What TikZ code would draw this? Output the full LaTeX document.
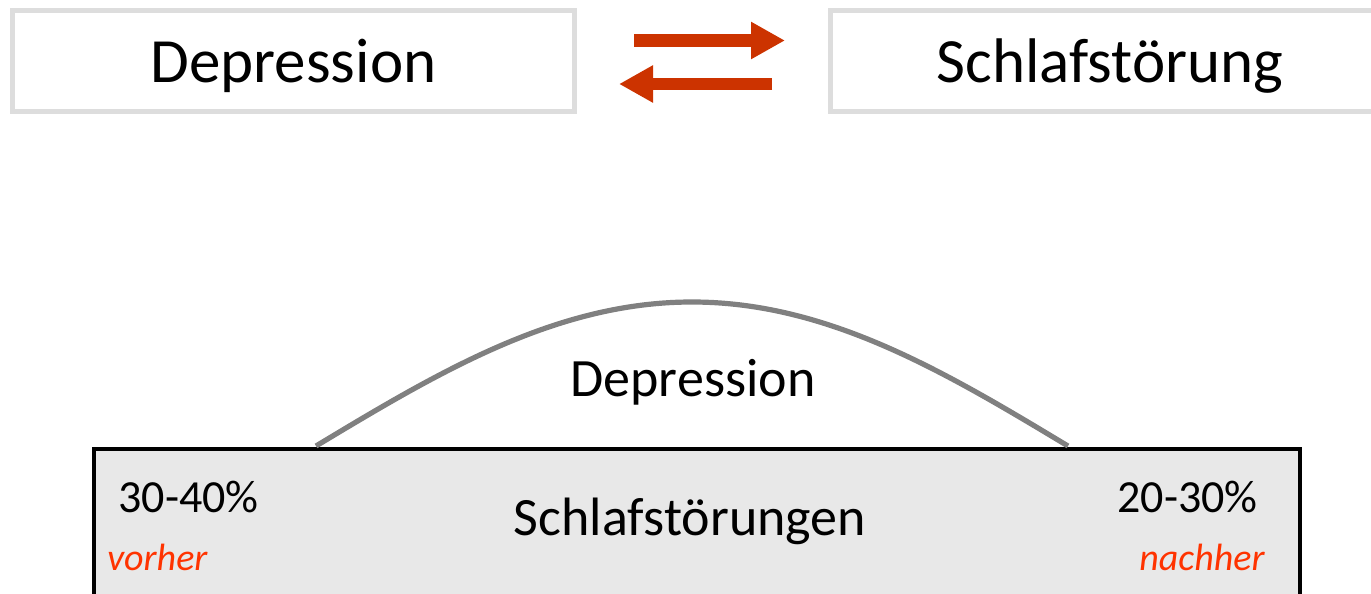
\documentclass[tikz,border=0pt]{standalone}
\usepackage{fontspec}
\setmainfont{Carlito}
\usetikzlibrary{arrows.meta}
\definecolor{boxgray}{HTML}{DDDDDD}
\definecolor{arrowred}{HTML}{CC3300}
\definecolor{textred}{HTML}{FF3300}
\definecolor{fillgray}{HTML}{E8E8E8}
\definecolor{curvegray}{HTML}{808080}
\tikzset{
  topbox/.style={draw=boxgray, line width=2.5pt, fill=white, inner sep=0pt},
  bigtxt/.style={font=\fontsize{31.5}{36}\selectfont, inner sep=0pt},
  midtxt/.style={font=\fontsize{27}{32}\selectfont, inner sep=0pt},
  pcttxt/.style={font=\fontsize{23}{27}\selectfont, inner sep=0pt, anchor=base west},
  redtxt/.style={font=\fontsize{19}{23}\selectfont\itshape, text=textred, inner sep=0pt, anchor=base west},
  relarrow/.style={draw=arrowred, line width=6.25pt, -{Triangle[length=17pt,width=17.5pt]}},
}
\begin{document}
\begin{tikzpicture}[x=0.5pt,y=-0.5pt]
\useasboundingbox (0,0) rectangle (1371,594);
\clip (0,0) rectangle (1371,594);
% top boxes
\node[topbox, minimum width=281pt, minimum height=50.5pt] (dep) at (293.5,60.5) {};
\node[bigtxt, anchor=base] (deptxt) at (293.5,82) {Depression};
\node[topbox, minimum width=280pt, minimum height=50.5pt] (schl) at (1110.5,60.5) {};
\node[bigtxt, anchor=base] (schltxt) at (1110,82) {Schlafstörung};
% arrows
\coordinate (a1s) at (634,40.5);
\coordinate (a1e) at (785,40.5);
\coordinate (a2s) at (772,84);
\coordinate (a2e) at (619,84);
\draw[relarrow] (a1s) -- (a1e);
\draw[relarrow] (a2s) -- (a2e);
% bottom box
\node[draw=black, line width=2pt, fill=fillgray, minimum width=603pt, minimum height=95pt, inner sep=0pt] (sbox) at (697,544) {};
\coordinate (cl) at (316,446);
\coordinate (cp) at (692,302);
\coordinate (cr) at (1068,446);
\draw[curvegray, line width=2.6pt] (cl) sin (cp) cos (cr);
\node[midtxt, anchor=base] (depmid) at (693,396) {Depression};
\node[midtxt, anchor=base] (schlmid) at (690,535) {Schlafstörungen};
\node[pcttxt] (p1) at (118,512) {30-40\%};
\node[pcttxt] (p2) at (1117,512) {20-30\%};
\node[redtxt] (vor) at (107,570) {vorher};
\node[redtxt] (nach) at (1139,570) {nachher};
\end{tikzpicture}
\end{document}
